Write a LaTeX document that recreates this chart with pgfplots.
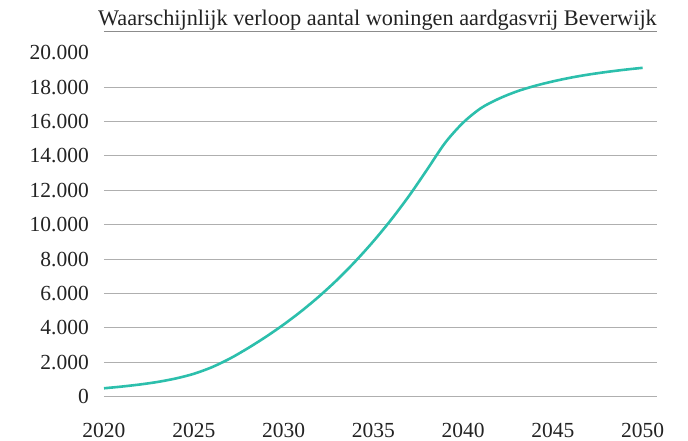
\documentclass[border=0pt]{standalone}
\usepackage{fontspec}
\setmainfont{Liberation Serif}
\usepackage{pgfplots}
\pgfplotsset{compat=1.18}
\definecolor{curvec}{RGB}{44,191,172}
\definecolor{gridc}{RGB}{175,175,175}
\definecolor{textc}{RGB}{35,35,35}
\begin{document}
\begin{tikzpicture}
\useasboundingbox (-104pt,-44.3pt) rectangle (584pt,396.7pt);
\begin{axis}[
  at={(0,0)}, anchor=south west,
  scale only axis, width=553pt, height=365pt,
  xmin=2020, xmax=2050.8, ymin=0, ymax=21220,
  axis line style={draw=none},
  tick style={draw=none},
  major tick length=0pt,
  ytick={0,2000,...,18000},
  extra y ticks={20000},
  extra y tick style={grid=none},
  ymajorgrids,
  grid style={gridc, line width=1pt},
  xtick={2020,2025,...,2050},
  scaled y ticks=false,
  /pgf/number format/assume math mode=true,
  /pgf/number format/1000 sep={.},
  ticklabel style={font=\fontsize{21.5}{24}\selectfont, text=textc},
  yticklabel style={anchor=east, inner sep=0pt, xshift=-15pt},
  xticklabel style={anchor=base, inner sep=0pt, yshift=-41pt, /pgf/number format/1000 sep={}},
  clip=false,
]
\addplot[curvec, line width=2.6pt, smooth] coordinates {
(2020,490) (2021,590) (2022,710) (2023,860) (2024,1060) (2025,1330)
(2026,1710) (2027,2210) (2028,2810) (2029,3470) (2030,4190) (2031,4980)
(2032,5850) (2033,6810) (2034,7870) (2035,9030) (2036,10300) (2037,11690)
(2038,13210) (2039,14760) (2040,15930) (2041,16780) (2042,17330) (2043,17750)
(2044,18070) (2045,18330) (2046,18550) (2047,18730) (2048,18880) (2049,19010)
(2050,19120)
};
\draw[gridc!80!black, line width=1pt] (rel axis cs:0,1) -- (rel axis cs:1,1);
\node[anchor=base east, inner sep=0pt, text=textc, font=\fontsize{22.3}{26}\selectfont] at ([yshift=6pt]rel axis cs:1,1) {Waarschijnlijk verloop aantal woningen aardgasvrij Beverwijk};
\end{axis}
\end{tikzpicture}
\end{document}
